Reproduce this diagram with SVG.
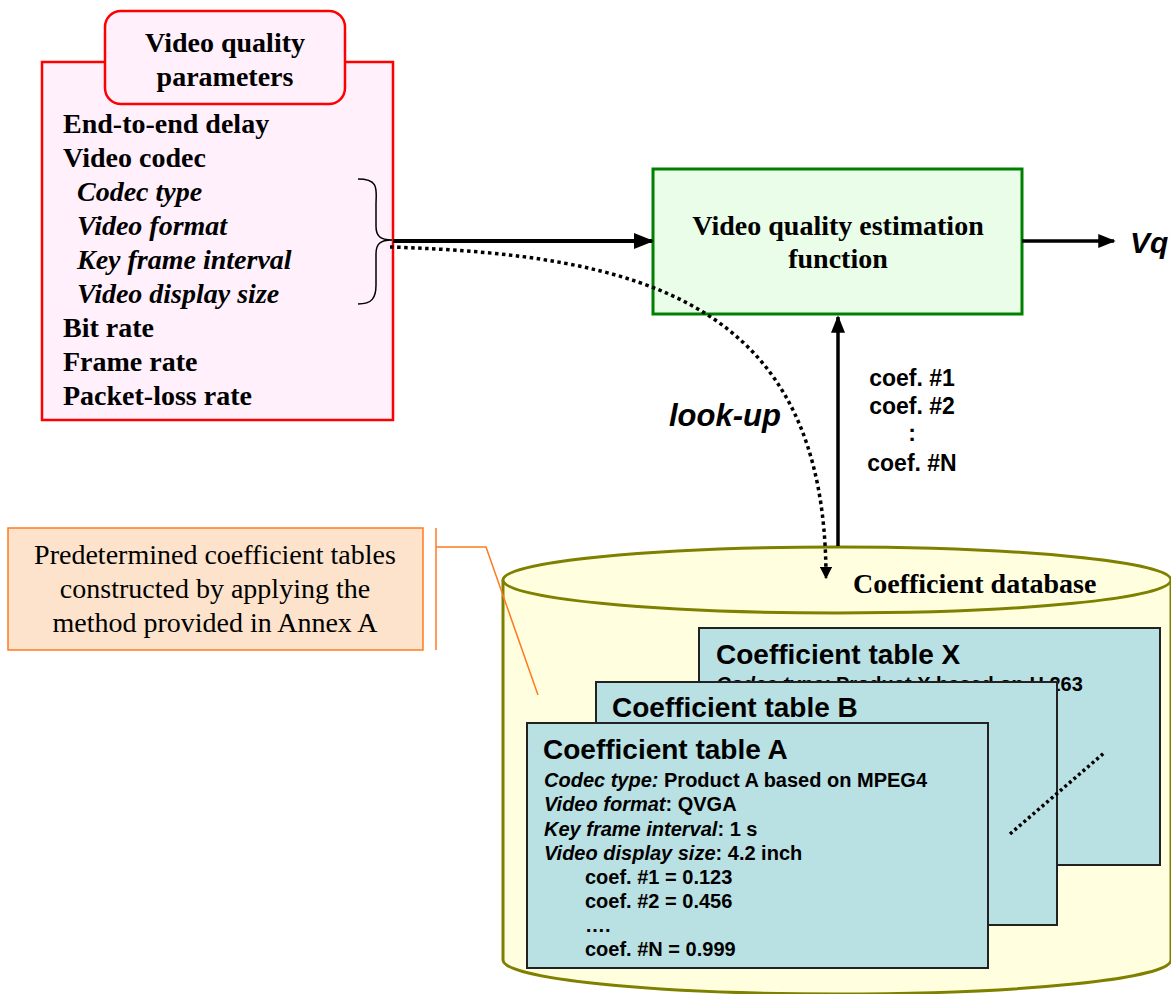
<svg xmlns="http://www.w3.org/2000/svg" width="1171" height="994" viewBox="0 0 1171 994">
<defs>
<style>
.tb{font-family:"Liberation Serif","Times New Roman",serif;font-weight:bold;fill:#000}
.tr{font-family:"Liberation Serif","Times New Roman",serif;fill:#000}
.ab{font-family:"Liberation Sans",Arial,sans-serif;font-weight:bold;fill:#000}
.tbl{fill:#b9e0e3;stroke:#222;stroke-width:2}
</style>
<marker id="ah" viewBox="0 0 10 10" refX="9" refY="5" markerWidth="5" markerHeight="5" orient="auto" markerUnits="strokeWidth"><path d="M0,1 L10,5 L0,9 z" fill="#000"/></marker>
<marker id="ah2" viewBox="0 0 10 10" refX="9" refY="5" markerWidth="3.5" markerHeight="3.5" orient="auto" markerUnits="strokeWidth"><path d="M0,0 L10,5 L0,10 z" fill="#000"/></marker>
</defs>
<rect width="1171" height="994" fill="#fff"/>

<g id="params">
<rect x="42" y="62" width="351" height="358" fill="#fff0fb" stroke="#ff0000" stroke-width="2.5"/>
<rect x="105" y="11" width="240" height="93" rx="16" fill="#fff0fb" stroke="#ff0000" stroke-width="2.5"/>
<text class="tb" font-size="28" text-anchor="middle" x="225" y="52">Video quality</text>
<text class="tb" font-size="28" text-anchor="middle" x="225" y="86">parameters</text>
<g font-size="28">
<text class="tb" x="63" y="133">End-to-end delay</text>
<text class="tb" x="63" y="167">Video codec</text>
<text class="tb" x="77" y="201" font-style="italic">Codec type</text>
<text class="tb" x="77" y="235" font-style="italic">Video format</text>
<text class="tb" x="77" y="269" font-style="italic">Key frame interval</text>
<text class="tb" x="77" y="303" font-style="italic">Video display size</text>
<text class="tb" x="63" y="337">Bit rate</text>
<text class="tb" x="63" y="371">Frame rate</text>
<text class="tb" x="63" y="405">Packet-loss rate</text>
</g>
<path d="M358,179 C380,179 376,190 376,205 L376,226 C376,236 380,240 392,240 C380,240 376,244 376,254 L376,285 C376,298 372,304 358,304" fill="none" stroke="#000" stroke-width="1.5"/>
</g>

<g id="estimation">
<rect x="653" y="169" width="369" height="145" fill="#e9fde9" stroke="#008000" stroke-width="3"/>
<text class="tb" font-size="28" text-anchor="middle" x="838" y="235">Video quality estimation</text>
<text class="tb" font-size="28" text-anchor="middle" x="838" y="268">function</text>
</g>

<g id="callout">
<rect x="8" y="528" width="415" height="122" fill="#fde3cb" stroke="#ff7a20" stroke-width="1.5"/>
<text class="tr" font-size="28" text-anchor="middle" x="215" y="564">Predetermined coefficient tables</text>
<text class="tr" font-size="28" text-anchor="middle" x="215" y="598">constructed by applying the</text>
<text class="tr" font-size="28" text-anchor="middle" x="215" y="632">method provided in Annex A</text>
</g>

<g id="database">
<path d="M503,580 L503,960 A334,34 0 0 0 1171,960 L1171,580" fill="#ffffe0" stroke="#808000" stroke-width="3"/>
<ellipse cx="837" cy="580" rx="334" ry="33" fill="#ffffe0" stroke="#808000" stroke-width="3"/>
<text class="tb" font-size="28" x="853" y="593">Coefficient database</text>
</g>

<g id="tableX">
<rect class="tbl" x="699" y="628" width="461" height="237"/>
<text class="ab" font-size="28" x="716" y="664">Coefficient table X</text>
<text class="ab" font-size="20" x="716" y="691"><tspan font-style="italic">Codec type:</tspan> Product X based on H.263</text>
</g>
<g id="tableB">
<rect class="tbl" x="596" y="682" width="461" height="243"/>
<text class="ab" font-size="28" x="612" y="717">Coefficient table B</text>
</g>
<g id="ellipsis">
<line x1="1010" y1="834" x2="1104" y2="753" stroke="#000" stroke-width="3.5" stroke-dasharray="3 3"/>
</g>
<g id="tableA">
<rect class="tbl" x="527" y="723" width="461" height="245"/>
<text class="ab" font-size="28" x="543" y="759">Coefficient table A</text>
<g font-size="20">
<text class="ab" x="544" y="787"><tspan font-style="italic">Codec type:</tspan> Product A based on MPEG4</text>
<text class="ab" x="544" y="811"><tspan font-style="italic">Video format</tspan>: QVGA</text>
<text class="ab" x="544" y="836"><tspan font-style="italic">Key frame interval</tspan>: 1 s</text>
<text class="ab" x="544" y="860"><tspan font-style="italic">Video display size</tspan>: 4.2 inch</text>
<text class="ab" x="585" y="884">coef. #1 = 0.123</text>
<text class="ab" x="585" y="908">coef. #2 = 0.456</text>
<text class="ab" x="585" y="932">….</text>
<text class="ab" x="585" y="956">coef. #N = 0.999</text>
</g>
</g>

<g id="connectors">
<line x1="393" y1="241" x2="652" y2="241" stroke="#000" stroke-width="4" marker-end="url(#ah)"/>
<line x1="1022" y1="241" x2="1114" y2="241" stroke="#000" stroke-width="3.5" marker-end="url(#ah)"/>
<line x1="838" y1="546" x2="838" y2="317" stroke="#000" stroke-width="3.5" marker-end="url(#ah)"/>
<path d="M390,247 C640,255 826,300 826,578" fill="none" stroke="#000" stroke-width="3.5" stroke-dasharray="3.5 3.5" marker-end="url(#ah2)"/>
<polyline points="436,528 436,650" fill="none" stroke="#ff7a20" stroke-width="1.5"/>
<polyline points="436,547 486,547 538,695" fill="none" stroke="#ff7a20" stroke-width="1.5"/>
</g>

<g id="labels">
<text class="ab" font-size="30" font-style="italic" x="1130" y="253">Vq</text>
<text class="ab" font-size="31" font-style="italic" x="669" y="426">look-up</text>
<g font-size="23" text-anchor="middle">
<text class="ab" x="912" y="386">coef. #1</text>
<text class="ab" x="912" y="414">coef. #2</text>
<text class="ab" x="912" y="441">:</text>
<text class="ab" x="912" y="471">coef. #N</text>
</g>
</g>
</svg>
